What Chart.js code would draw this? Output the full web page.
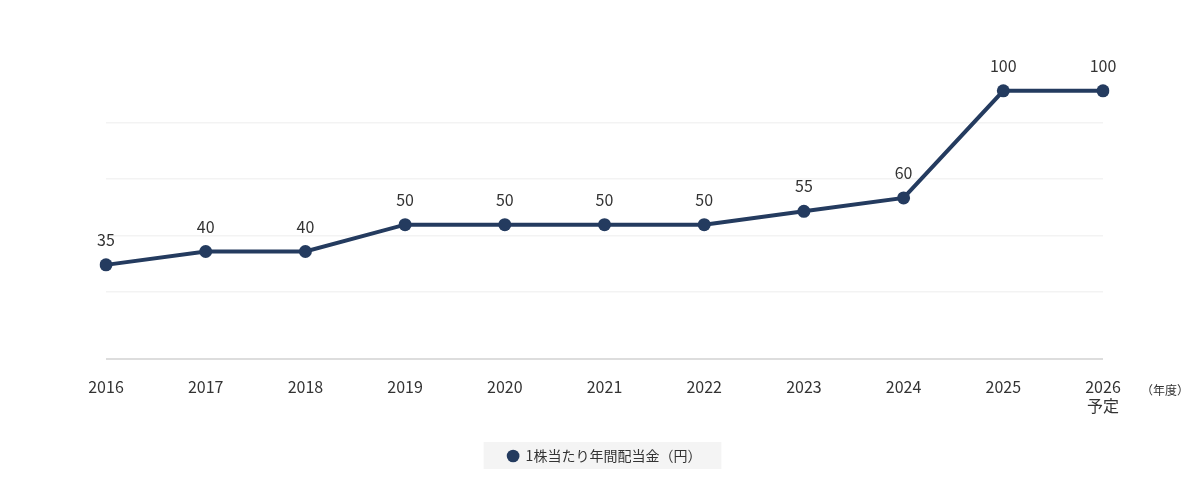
<!DOCTYPE html>
<html>
<head>
<meta charset="utf-8">
<script src="https://cdn.jsdelivr.net/npm/chart.js@4"></script>
<style>
   html, body { margin: 0; padding: 0; background: #ffffff; }
   #wrap { width: 1200px; height: 490px; position: relative; }
</style>
</head>
<body>
<div id="wrap"><canvas id="chart"></canvas></div>
<script>
const yearLabels = ['2016', '2017', '2018', '2019', '2020', '2021', '2022', '2023', '2024', '2025', ['2026', '予定']];
const dividendValues = [35, 40, 40, 50, 50, 50, 50, 55, 60, 100, 100];
const gridValues = [0, 25, 46, 67, 88];
const seriesLabel = '1株当たり年間配当金（円）';
const unitLabel = '（年度）';

const mainColor = '#243b5f';
const textColor = '#333333';
const fontFamily = '"Noto Sans CJK JP", "Noto Sans", sans-serif';

// etiquettes de valeur au-dessus des points
const valueLabelPlugin = {
   id: 'valueLabels',
   afterDatasetsDraw(chart) {
      const ctx = chart.ctx;
      const meta = chart.getDatasetMeta(0);
      ctx.save();
      ctx.font = '16px ' + fontFamily;
      ctx.fillStyle = textColor;
      ctx.textAlign = 'center';
      ctx.textBaseline = 'middle';
      meta.data.forEach((pt, i) => {
         ctx.fillText(String(dividendValues[i]), pt.x, pt.y - 25);
      });
      // unité de l'axe x
      const xScale = chart.scales.x;
      ctx.font = '12px ' + fontFamily;
      ctx.fillText(unitLabel, xScale.right + 62, xScale.top + 32);
      ctx.restore();
   }
};

// fond gris derrière la légende
const legendBgPlugin = {
   id: 'legendBg',
   beforeDraw(chart) {
      const boxes = chart.legend && chart.legend.legendHitBoxes;
      if (!boxes || !boxes.length) return;
      const b = boxes[0];
      const ctx = chart.ctx;
      ctx.save();
      ctx.fillStyle = '#f4f4f4';
      ctx.fillRect(b.left - 24, b.top + b.height / 2 - 14, b.width + 44, 27);
      ctx.restore();
   }
};

new Chart(document.getElementById('chart'), {
   type: 'line',
   data: {
      labels: yearLabels,
      datasets: [{
         label: seriesLabel,
         data: dividendValues,
         borderColor: mainColor,
         backgroundColor: mainColor,
         borderWidth: 4,
         pointRadius: 6.5,
         pointHoverRadius: 6.5,
         pointBackgroundColor: mainColor,
         pointBorderWidth: 0,
         tension: 0
      }]
   },
   options: {
      responsive: true,
      maintainAspectRatio: false,
      animation: false,
      layout: {
         padding: { left: 106, right: 97, top: 64, bottom: 17 }
      },
      scales: {
         x: {
            offset: false,
            grid: { display: false },
            border: { display: false },
            ticks: {
               color: textColor,
               font: { size: 16, family: fontFamily },
               padding: 11,
               maxRotation: 0,
               autoSkip: false
            }
         },
         y: {
            min: 0,
            max: 110,
            border: { display: false },
            afterBuildTicks: function (axis) {
               axis.ticks = gridValues.map(v => ({ value: v }));
            },
            ticks: { display: false },
            grid: {
               drawTicks: false,
               lineWidth: ctx => ctx.tick && ctx.tick.value === 0 ? 2 : 1.5,
               color: ctx => ctx.tick && ctx.tick.value === 0 ? '#dddddd' : '#f3f3f3'
            }
         }
      },
      plugins: {
         legend: {
            position: 'bottom',
            labels: {
               usePointStyle: true,
               pointStyle: 'circle',
               boxWidth: 11,
               boxHeight: 9,
               color: textColor,
               padding: 22,
               font: { size: 14, family: fontFamily }
            }
         },
         tooltip: { enabled: false }
      }
   },
   plugins: [valueLabelPlugin, legendBgPlugin]
});
</script>
</body>
</html>
